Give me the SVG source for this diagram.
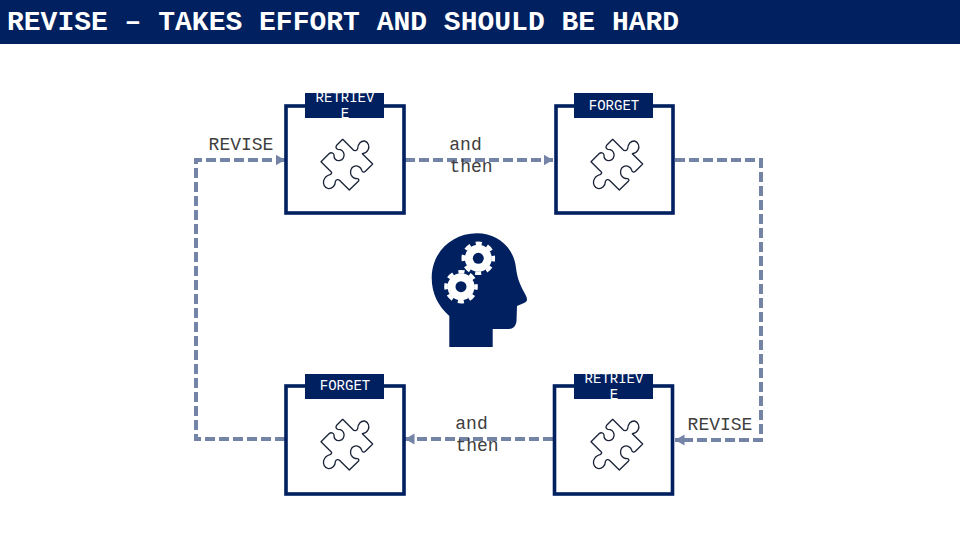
<svg xmlns="http://www.w3.org/2000/svg" xmlns:xlink="http://www.w3.org/1999/xlink" width="960" height="540" viewBox="0 0 960 540">
<style>
.mono{font-family:"Liberation Mono","Courier New",monospace}
.title{font-size:28px;font-weight:bold;fill:#fff}
.lab{font-size:18px;fill:#404040;text-anchor:middle}
.tabt{font-size:14px;fill:#fff;text-anchor:middle}
.box{fill:#fff;stroke:#002060;stroke-width:3.6}
.tab{fill:#002060}
.conn{fill:none;stroke:#7484a6;stroke-width:4;stroke-dasharray:10 4}
.p{fill:#fff;stroke:#1a2338;stroke-width:4;stroke-linejoin:round}
.gb{fill:#fff}
.gt{fill:none;stroke:#fff;stroke-width:3.600;stroke-dasharray:6.200 5.580;stroke-dashoffset:3.100}
.gh{fill:#002060}
</style>
<defs>
<marker id="ah" markerUnits="userSpaceOnUse" markerWidth="10" markerHeight="12" refX="9.500" refY="6" orient="auto"><path d="M0,0.500L9.500,6L0,11.500Z" fill="#7484a6"/></marker>
<path id="puzzle" class="p" d="M33,95L57,71C63,66 71,68 72,75C71,85 78,93 88,92C98,91 104,82 102,72C100,63 92,58 84,58C78,57 76,51 80,46L98,28L128,58C133,64 141,63 143,56C143,42 153,32 164,33C175,36 180,50 174,60C170,68 163,70 157,71L188,102L167,123C161,129 156,126 155,120C152,111 142,105 132,109C122,113 119,126 124,136C128,143 135,146 142,146C147,147 148,151 145,154L118,180L90,152C85,147 78,148 76,155C76,167 66,177 55,176C44,174 38,162 41,152C44,142 52,136 60,134C65,132 66,128 64,126Z"/>
<g id="gear"><circle class="gb" r="13.500"/><circle class="gt" r="15"/><circle class="gh" r="5.500"/></g>
</defs>
<rect x="0" y="0" width="960" height="44" fill="#002060"/>
<text class="mono title" x="7" y="30">REVISE – TAKES EFFORT AND SHOULD BE HARD</text>
<g id="connectors">
<path class="conn" d="M285,439H196V160H285" marker-end="url(#ah)"/>
<path class="conn" d="M405,160H553" marker-end="url(#ah)"/>
<path class="conn" d="M675,160H761V440H675" marker-end="url(#ah)"/>
<path class="conn" d="M553,439H405" marker-end="url(#ah)"/>
</g>
<g id="label-revise-left"><text class="mono lab" x="241" y="150">REVISE</text></g>
<g id="label-then-top"><text class="mono lab" y="150"><tspan x="465.500">and</tspan><tspan x="471" dy="22">then</tspan></text></g>
<g id="label-then-bottom"><text class="mono lab" y="429"><tspan x="471.500">and</tspan><tspan x="477" dy="22">then</tspan></text></g>
<g id="label-revise-right"><text class="mono lab" x="720" y="430">REVISE</text></g>
<g id="node-retrieve-top">
<rect class="box" x="286" y="106" width="118" height="107"/>
<rect class="tab" x="305" y="93" width="79" height="25"/>
<text class="mono tabt" x="345" y="102">RETRIEV</text><text class="mono tabt" x="345" y="118">E</text>
<use xlink:href="#puzzle" href="#puzzle" transform="translate(310 130) scale(.3333)"/>
</g>
<g id="node-forget-top">
<rect class="box" x="556" y="106" width="117" height="107"/>
<rect class="tab" x="574" y="93" width="79" height="25"/>
<text class="mono tabt" x="614" y="110">FORGET</text>
<use xlink:href="#puzzle" href="#puzzle" transform="translate(580 130) scale(.3333)"/>
</g>
<g id="node-forget-bottom">
<rect class="box" x="286" y="386" width="118" height="108"/>
<rect class="tab" x="305" y="374" width="79" height="25"/>
<text class="mono tabt" x="345" y="390">FORGET</text>
<use xlink:href="#puzzle" href="#puzzle" transform="translate(310 410) scale(.3333)"/>
</g>
<g id="node-retrieve-bottom">
<rect class="box" x="554.500" y="386" width="118" height="108"/>
<rect class="tab" x="574" y="374" width="79" height="25"/>
<text class="mono tabt" x="614" y="383">RETRIEV</text><text class="mono tabt" x="614" y="399">E</text>
<use xlink:href="#puzzle" href="#puzzle" transform="translate(580 410) scale(.3333)"/>
</g>
<g id="node-head">
<path fill="#002060" d="M449.300,347V316C438,306 431.700,293 431.700,278C431.700,252 452,233.300 477,233.300C498,233.300 514,248 516,268C517,276 519,283 524,292C528,299 528,301 524,303L517,306L516.500,321C516,326 513,329 509,329H492.700V347Z"/>
<use xlink:href="#gear" href="#gear" x="478.300" y="258.300"/>
<use xlink:href="#gear" href="#gear" x="461" y="286.700"/>
</g>
</svg>
